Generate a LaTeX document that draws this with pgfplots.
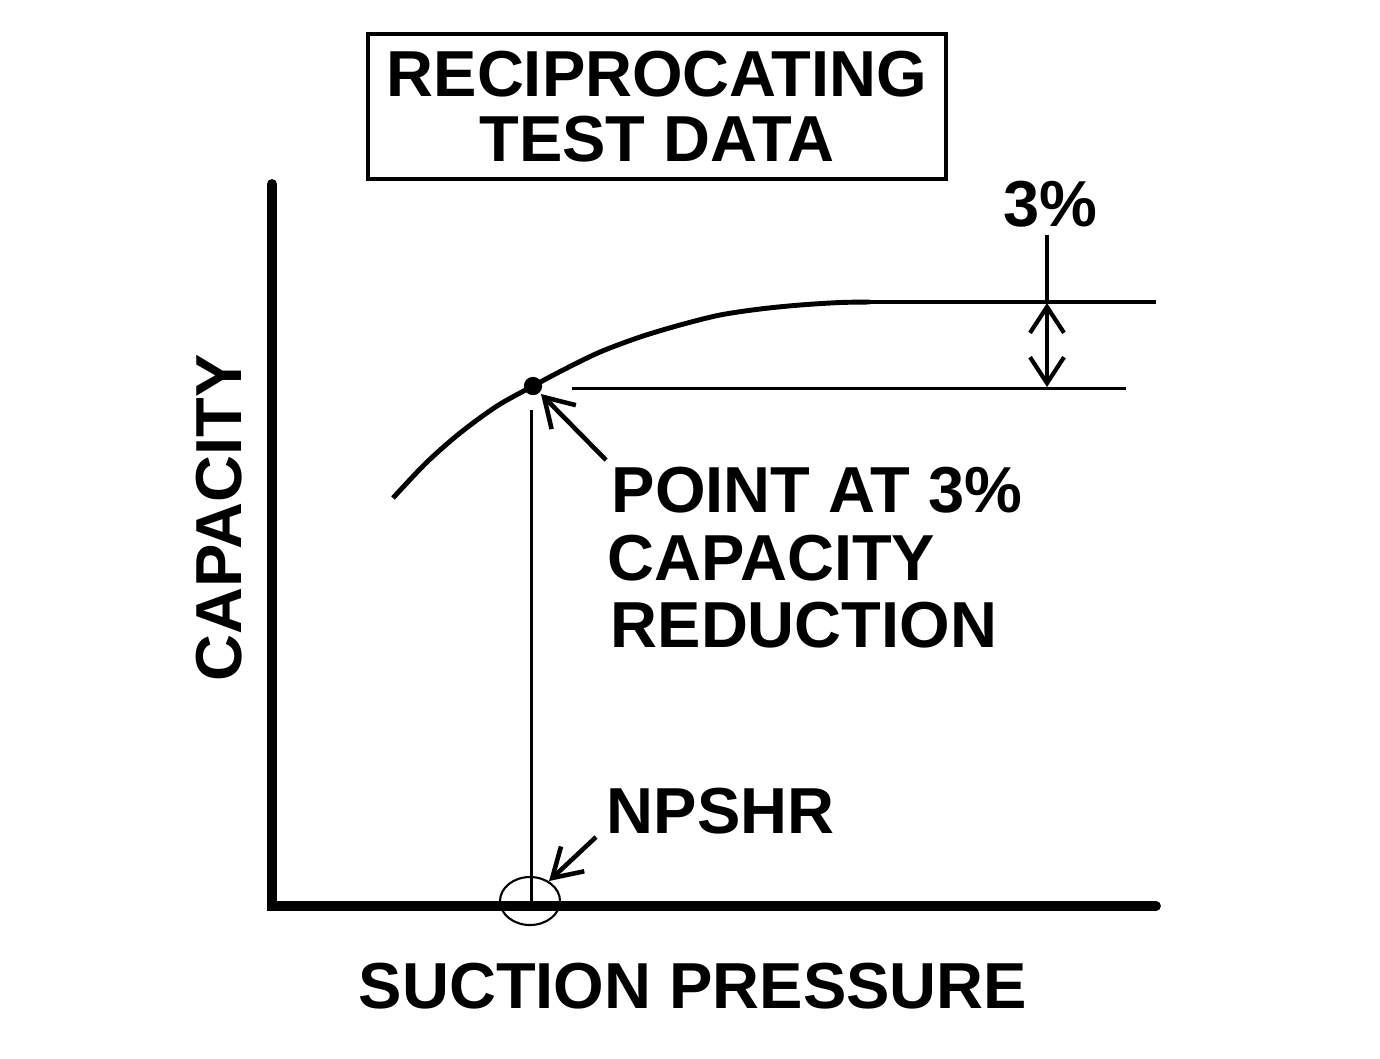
\documentclass[border=0pt]{standalone}
\usepackage{pgfplots}
\pgfplotsset{compat=1.18}
\usetikzlibrary{arrows.meta}
\usepackage{fontspec}
\setmainfont{Liberation Sans}

\begin{document}
\begin{tikzpicture}
\begin{axis}[
    width=13.8cm, height=10.58cm, scale only axis,
    xmin=0, xmax=1380, ymin=0, ymax=1058,
    y dir=reverse,
    hide axis, clip=false,
    font=\bfseries\fontsize{18.5}{19}\selectfont,
]
% invisible frame so the page keeps the reference size
\addplot[draw=none] coordinates {(0,0) (1380,1058)};

% axes
\addplot[black, line width=2.8pt, line cap=round] coordinates {(272,184) (272,906) (1156,906)};

% capacity curve
\addplot[black, line width=1.4pt, smooth] coordinates {
    (393,498) (426,463) (460,433) (497,406) (533,386) (565,369)
    (600,352) (640,337) (680,325) (720,315) (760,309) (800,305)
    (840,302.5) (870,302)
};
\addplot[black, line width=1.4pt] coordinates {(870,302) (1156,302)};

% 3% line and drop to NPSHR
\addplot[black, line width=0.85pt] coordinates {(572,388) (1126,388)};
\addplot[black, line width=0.85pt] coordinates {(531,410) (531,906)};
\addplot[black, only marks, mark=*, mark size=2.4pt] coordinates {(533,386)};

% dimension
\addplot[black, line width=0.9pt] coordinates {(1047,235) (1047,302)};
\draw[black, line width=1.2pt, {Straight Barb[length=2.6mm,width=3.4mm]}-{Straight Barb[length=2.6mm,width=3.4mm]}]
    (axis cs:1047,303) -- (axis cs:1047,387);

% NPSHR ellipse
\draw[black, line width=0.6pt] (axis cs:530,901) ellipse [x radius=3mm, y radius=2.4mm];

% annotation arrows
\draw[black, line width=1.3pt, -{Straight Barb[length=2.8mm,width=3.4mm]}] (axis cs:606,460) -- (axis cs:541,394);
\draw[black, line width=1.3pt, -{Straight Barb[length=2.8mm,width=3.4mm]}] (axis cs:596,837) -- (axis cs:549,881);

% texts
\begin{scope}[every node/.style={inner sep=0pt}]
\node[anchor=base west] at (axis cs:611,512) {POINT AT 3\%};
\node[anchor=base west] at (axis cs:607,580) {CAPACITY};
\node[anchor=base west] at (axis cs:610,647) {REDUCTION};
\node[anchor=base west] at (axis cs:606,833) {NPSHR};
\node[anchor=base] at (axis cs:1050,226) {3\%};
\node[anchor=base] at (axis cs:693,1008) {SUCTION PRESSURE};
\node[anchor=base, rotate=90] at (axis cs:241,518) {CAPACITY};
\node[anchor=base] at (axis cs:657,96) {RECIPROCATING};
\node[anchor=base] at (axis cs:657,161) {TEST DATA};
\end{scope}

% title box
\draw[black, line width=1.4pt] (axis cs:368,34) rectangle (axis cs:946,179);
\end{axis}
\end{tikzpicture}
\end{document}
